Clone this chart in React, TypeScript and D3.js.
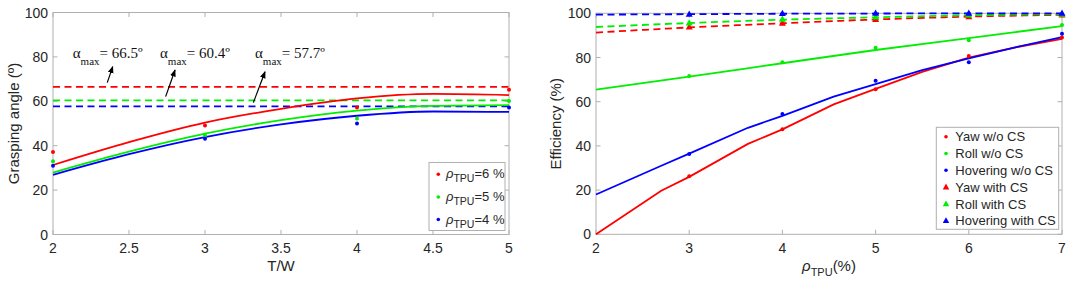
import React from "react";
import * as d3 from "d3";

// ---------- Left chart data ----------
const twPoints = [2, 3, 4, 5];
const angleRho6 = [37.2, 49.1, 57.2, 65.2];
const angleRho5 = [33.0, 44.5, 52.2, 60.1];
const angleRho4 = [31.0, 43.1, 50.0, 57.2];
const twFitX = [2, 2.5, 3, 3.5, 4, 4.5, 5];
const fitRho6 = [31.3, 41.6, 50.4, 56.6, 61.3, 63.3, 62.8];
const fitRho5 = [27.9, 37.3, 45.4, 51.5, 55.8, 57.9, 58.3];
const fitRho4 = [26.9, 36.2, 43.9, 49.6, 53.5, 55.4, 55.2];
const alphaMax = [66.5, 60.4, 57.7];
const alphaLabels = ["= 66.5º", "= 60.4º", "= 57.7º"];
const alphaTextPos = [[2.13, 79.5], [2.704, 79.6], [3.329, 79.6]];
const alphaArrowTail = [[2.357, 68.4], [2.741, 62.1], [3.318, 59.4]];
const alphaArrowHead = [[2.393, 75.6], [2.803, 74.1], [3.395, 73.3]];
const leftLegend = ["=6 %", "=5 %", "=4 %"];
const leftXTicks = [2, 2.5, 3, 3.5, 4, 4.5, 5];
const yTicks = [0, 20, 40, 60, 80, 100];

// ---------- Right chart data ----------
const rhoPoints = [3, 4, 5, 6, 7];
const yawNoCS = [26.3, 47.5, 65.6, 80.7, 89.0];
const rollNoCS = [71.6, 77.8, 84.4, 87.8, 94.7];
const hovNoCS = [36.3, 54.4, 69.5, 77.8, 90.8];
const yawCS = [93.8, 95.5, 97.2, 98.5, 99.2];
const rollCS = [95.6, 97.3, 98.3, 99.2, 99.6];
const hovCS = [99.6, 99.9, 100, 100, 100];
const rhoFitX = [2, 3, 4, 5, 6, 7];
const yawCSFit = [91.3, 93.6, 95.5, 97.2, 98.5, 99.3];
const rollCSFit = [93.8, 95.6, 97.1, 98.2, 99.1, 99.6];
const hovCSFit = [99.4, 99.6, 99.8, 99.9, 100, 100];
const rollNoCSFit = [65.5, 71.3, 77.4, 83.4, 88.8, 94.2];
const curveX = [2, 2.7, 3, 3.63, 4, 4.55, 5, 5.5, 6, 6.5, 7];
const yawNoCSFit = [0, 19.7, 26.0, 40.9, 47.5, 58.8, 65.8, 73.5, 79.9, 84.6, 88.4];
const hovNoCSFit = [18.0, 31.0, 36.5, 48.2, 53.6, 62.3, 68.0, 74.3, 79.6, 84.6, 89.2];
const rightXTicks = [2, 3, 4, 5, 6, 7];
const rightLegend = ["Yaw w/o CS", "Roll w/o CS", "Hovering w/o CS", "Yaw with CS", "Roll with CS", "Hovering with CS"];

const RED = "#ff0000";
const GREEN = "#00ee00";
const BLUE = "#0000ff";
const AXIS = "#b0b0b0";
const TXT = "#262626";
const SANS = "'Liberation Sans', Arial, sans-serif";
const SERIF = "'Liberation Serif', 'Times New Roman', serif";

function tri(cx: number, cy: number, s: number) {
  const h = s * 0.9;
  return `M${cx},${cy - h * 0.6}L${cx + s / 2},${cy + h * 0.4}L${cx - s / 2},${cy + h * 0.4}Z`;
}

function Frame({ x, y, xTicks, fmt }: any) {
  const [x0, x1] = x.range();
  const [y0, y1] = y.range();
  const tl = 4.5;
  return (
    <g>
      <rect x={x0} y={y1} width={x1 - x0} height={y0 - y1} fill="none" stroke={AXIS} strokeWidth={1} />
      {xTicks.map((t: number) => (
        <g key={"x" + t}>
          <line x1={x(t)} x2={x(t)} y1={y0} y2={y0 - tl} stroke={AXIS} />
          <line x1={x(t)} x2={x(t)} y1={y1} y2={y1 + tl} stroke={AXIS} />
          <text x={x(t)} y={y0 + 18.5} textAnchor="middle" fontSize={14} fill={TXT} fontFamily={SANS}>
            {fmt(t)}
          </text>
        </g>
      ))}
      {yTicks.map((t) => (
        <g key={"y" + t}>
          <line x1={x0} x2={x0 + tl} y1={y(t)} y2={y(t)} stroke={AXIS} />
          <line x1={x1} x2={x1 - tl} y1={y(t)} y2={y(t)} stroke={AXIS} />
          <text x={x0 - 5} y={y(t) + 5} textAnchor="end" fontSize={14} fill={TXT} fontFamily={SANS}>
            {t}
          </text>
        </g>
      ))}
    </g>
  );
}

export default function App() {
  // Left
  const xL = d3.scaleLinear().domain([2, 5]).range([53, 509]);
  const yL = d3.scaleLinear().domain([0, 100]).range([234.5, 12.5]);
  const smoothL = d3
    .line<number>()
    .x((_, i) => xL(twFitX[i]))
    .y((d) => yL(d))
    .curve(d3.curveMonotoneX);
  const leftColors = [RED, GREEN, BLUE];
  const leftFits = [fitRho6, fitRho5, fitRho4];
  const leftPts = [angleRho6, angleRho5, angleRho4];

  // Right
  const xR = d3.scaleLinear().domain([2, 7]).range([596, 1062]);
  const yR = d3.scaleLinear().domain([0, 100]).range([234.3, 13.3]);
  const lineFit = d3
    .line<number>()
    .x((_, i) => xR(rhoFitX[i]))
    .y((d) => yR(d))
    .curve(d3.curveMonotoneX);
  const lineCurve = d3
    .line<number>()
    .x((_, i) => xR(curveX[i]))
    .y((d) => yR(d));

  const leftLegY = [174.3, 197, 219.5];
  const rightLegY = [136.7, 153.5, 170.3, 187.1, 203.9, 220.7];
  const rightLegColors = [RED, GREEN, BLUE, RED, GREEN, BLUE];

  return (
    <svg
      width={1072}
      height={287}
      style={{ position: "absolute", left: 0, top: 0, background: "#fff" }}
      xmlns="http://www.w3.org/2000/svg"
    >
      <defs>
        <marker id="ah" viewBox="0 0 10 10" refX="9" refY="5" markerWidth="6" markerHeight="6" orient="auto">
          <path d="M0,1L10,5L0,9Z" fill="#000" />
        </marker>
      </defs>
      <rect x={0} y={0} width={1072} height={287} fill="#fff" />

      {/* ---------------- LEFT CHART ---------------- */}
      <Frame x={xL} y={yL} xTicks={leftXTicks} fmt={(t: number) => String(t)} />
      {alphaMax.map((v, i) => (
        <line
          key={"am" + i}
          x1={xL(2)}
          x2={xL(5)}
          y1={yL(v)}
          y2={yL(v)}
          stroke={leftColors[i]}
          strokeWidth={1.8}
          strokeDasharray="7,4.5"
        />
      ))}
      {leftFits.map((f, i) => (
        <path key={"lf" + i} d={smoothL(f) || ""} fill="none" stroke={leftColors[i]} strokeWidth={1.8} />
      ))}
      {leftPts.map((arr, i) =>
        arr.map((v, j) => (
          <circle key={"lp" + i + "-" + j} cx={xL(twPoints[j])} cy={yL(v)} r={2} fill={leftColors[i]} />
        ))
      )}
      {alphaArrowTail.map((t, i) => (
        <line
          key={"ar" + i}
          x1={xL(t[0])}
          y1={yL(t[1])}
          x2={xL(alphaArrowHead[i][0])}
          y2={yL(alphaArrowHead[i][1])}
          stroke="#000"
          strokeWidth={1.2}
          markerEnd="url(#ah)"
        />
      ))}
      {alphaTextPos.map((p, i) => (
        <text key={"at" + i} x={xL(p[0])} y={yL(p[1])} fontFamily={SERIF} fontSize={15} fill="#111">
          <tspan>α</tspan>
          <tspan dy={7} fontSize={11}>max</tspan>
          <tspan dy={-7}>{alphaLabels[i]}</tspan>
        </text>
      ))}
      <text
        x={xL(3.5)}
        y={271}
        textAnchor="middle"
        fontSize={15}
        fill={TXT}
        fontFamily={SANS}
      >
        T/W
      </text>
      <text
        transform={`translate(19.3, ${(yL(0) + yL(100)) / 2}) rotate(-90)`}
        textAnchor="middle"
        fontSize={15}
        fill={TXT}
        fontFamily={SANS}
      >
        Grasping angle (º)
      </text>
      {/* left legend */}
      <rect x={429} y={162.5} width={76} height={68} fill="#fff" stroke={AXIS} strokeWidth={1} />
      {leftLegend.map((s, i) => (
        <g key={"ll" + i}>
          <circle cx={438.3} cy={leftLegY[i]} r={1.8} fill={leftColors[i]} />
          <text x={446} y={leftLegY[i] + 4} fontSize={13} fill={TXT} fontFamily={SANS}>
            <tspan fontStyle="italic">ρ</tspan>
            <tspan dy={4} fontSize={10.5}>TPU</tspan>
            <tspan dy={-4}>{s}</tspan>
          </text>
        </g>
      ))}

      {/* ---------------- RIGHT CHART ---------------- */}
      <Frame x={xR} y={yR} xTicks={rightXTicks} fmt={(t: number) => String(t)} />
      <path d={lineFit(rollNoCSFit) || ""} fill="none" stroke={GREEN} strokeWidth={1.8} />
      <path d={lineCurve(yawNoCSFit) || ""} fill="none" stroke={RED} strokeWidth={1.8} />
      <path d={lineCurve(hovNoCSFit) || ""} fill="none" stroke={BLUE} strokeWidth={1.8} />
      <path d={lineFit(yawCSFit) || ""} fill="none" stroke={RED} strokeWidth={1.8} strokeDasharray="7,4.5" />
      <path d={lineFit(rollCSFit) || ""} fill="none" stroke={GREEN} strokeWidth={1.8} strokeDasharray="7,4.5" />
      <path d={lineFit(hovCSFit) || ""} fill="none" stroke={BLUE} strokeWidth={1.8} strokeDasharray="7,4.5" />
      {[yawNoCS, rollNoCS, hovNoCS].map((arr, i) =>
        arr.map((v, j) => (
          <circle key={"rd" + i + "-" + j} cx={xR(rhoPoints[j])} cy={yR(v)} r={2} fill={[RED, GREEN, BLUE][i]} />
        ))
      )}
      {[yawCS, rollCS, hovCS].map((arr, i) =>
        arr.map((v, j) => (
          <path key={"rt" + i + "-" + j} d={tri(xR(rhoPoints[j]), yR(v), 7)} fill={[RED, GREEN, BLUE][i]} />
        ))
      )}
      <text
        transform={`translate(560.5, ${(yR(0) + yR(100)) / 2}) rotate(-90)`}
        textAnchor="middle"
        fontSize={15}
        fill={TXT}
        fontFamily={SANS}
      >
        Efficiency (%)
      </text>
      <text x={xR(4.5)} y={271} textAnchor="middle" fontSize={15} fill={TXT} fontFamily={SANS}>
        <tspan fontStyle="italic">ρ</tspan>
        <tspan dy={5} fontSize={11}>TPU</tspan>
        <tspan dy={-5}>(%)</tspan>
      </text>
      {/* right legend */}
      <rect x={936.3} y={127.3} width={122.4} height={102} fill="#fff" stroke={AXIS} strokeWidth={1} />
      {rightLegend.map((s, i) => (
        <g key={"rl" + i}>
          {i < 3 ? (
            <circle cx={946} cy={rightLegY[i]} r={1.8} fill={rightLegColors[i]} />
          ) : (
            <path d={tri(946, rightLegY[i], 6.5)} fill={rightLegColors[i]} />
          )}
          <text x={955.3} y={rightLegY[i] + 4.6} fontSize={13} fill={TXT} fontFamily={SANS}>
            {s}
          </text>
        </g>
      ))}
    </svg>
  );
}
